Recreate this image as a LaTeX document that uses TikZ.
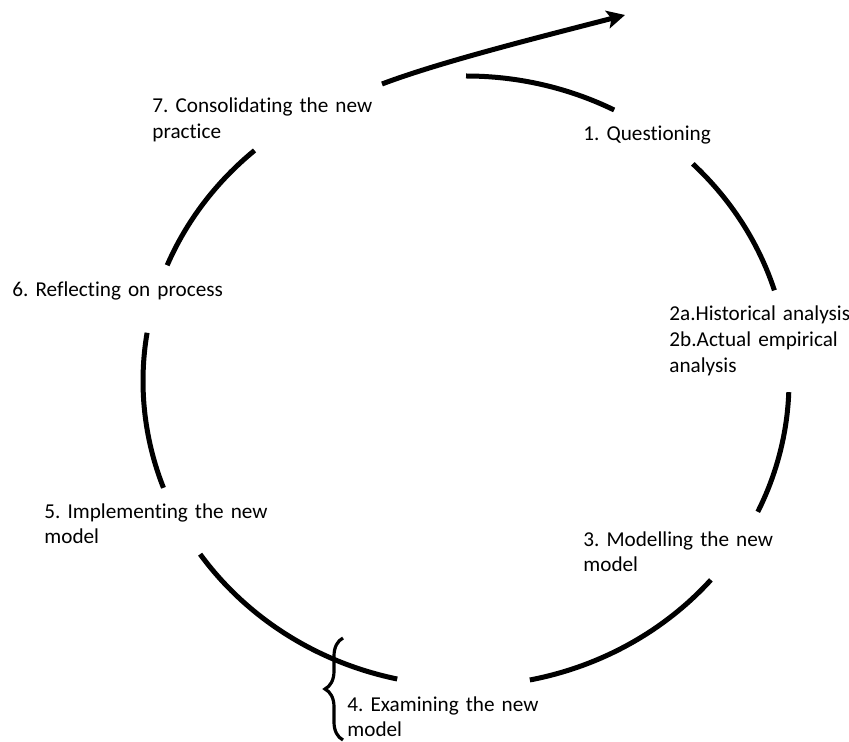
\documentclass[tikz,border=0pt]{standalone}
\usepackage{fontspec}
\setmainfont{Carlito}[Ligatures=CommonOff, WordSpace=0.8]
\usepackage{tikz}
\usetikzlibrary{arrows.meta, decorations.pathreplacing}
\frenchspacing
\tikzstyle{stage} = [anchor=base west, inner sep=0pt, text width=140pt, align=left, font=\fontsize{10.6pt}{12.9pt}\selectfont]
\tikzstyle{ringline} = [line width=2.5pt, x radius=161.5pt, y radius=152.5pt]
\tikzstyle{outarrow} = [line width=2.5pt, -{Stealth[length=9pt, width=9pt, inset=2pt]}]
\tikzstyle{bracket} = [line width=1.6pt, decorate, decoration={brace, amplitude=9pt}]

\begin{document}
\begin{tikzpicture}[x=0.5pt, y=-0.5pt]
    \useasboundingbox (0,0) rectangle (849,742);

    \node (consolidating) [stage] at (152,113) {7. Consolidating the new\\practice};
    \node (questioning) [stage] at (583,141) {1. Questioning};
    \node (reflecting) [stage] at (12,297) {6. Reflecting on process};
    \node (analysis) [stage] at (669,321) {2a.Historical analysis\\2b.Actual empirical\\analysis};
    \node (implementing) [stage] at (44,518) {5. Implementing the new\\model};
    \node (modelling) [stage] at (583,546) {3. Modelling the new\\model};
    \node (examining) [stage] at (347,711) {4. Examining the new\\model};

    % the cycle, broken where the stages sit
    \coordinate (centre) at (466,381);
    \draw [ringline] (centre) ++(90:161.5pt and 152.5pt) arc [start angle=90, end angle=62.7];
    \draw [ringline] (centre) ++(45.4:161.5pt and 152.5pt) arc [start angle=45.4, end angle=17.3];
    \draw [ringline] (centre) ++(-2.1:161.5pt and 152.5pt) arc [start angle=-2.1, end angle=-25.4];
    \draw [ringline] (centre) ++(-40.7:161.5pt and 152.5pt) arc [start angle=-40.7, end angle=-78.6];
    \draw [ringline] (centre) ++(-102.3:161.5pt and 152.5pt) arc [start angle=-102.3, end angle=-145.4];
    \draw [ringline] (centre) ++(-159.5:161.5pt and 152.5pt) arc [start angle=-159.5, end angle=-189.1];
    \draw [ringline] (centre) ++(-202.3:161.5pt and 152.5pt) arc [start angle=-202.3, end angle=-229.1];

    % way out of the cycle
    \coordinate (spiral) at (382,84);
    \coordinate (onward) at (625,15);
    \draw [outarrow] (spiral) .. controls (440,62) and (540,37) .. (onward);

    \coordinate (bracebottom) at (343,740);
    \coordinate (bracetop) at (343,638);
    \draw [bracket] (bracebottom) -- (bracetop);
\end{tikzpicture}
\end{document}
